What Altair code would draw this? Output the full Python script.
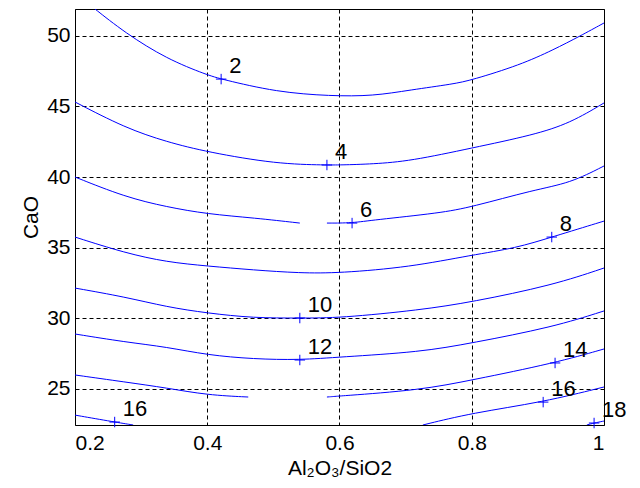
import altair as alt
import pandas as pd

# ---- contour lines (level, segment) : x values, y values ----
c2_x = [0.226, 0.276, 0.339, 0.400, 0.421, 0.505, 0.586, 0.651, 0.707, 0.772, 0.800, 0.873, 0.923, 0.964, 1.000]
c2_y = [52.05, 50.19, 48.35, 47.22, 46.93, 46.01, 45.73, 45.73, 46.16, 46.58, 46.86, 47.93, 48.99, 49.98, 50.90]

c4_x = [0.200, 0.276, 0.339, 0.400, 0.505, 0.581, 0.600, 0.651, 0.707, 0.800, 0.893, 0.949, 1.000]
c4_y = [45.31, 43.47, 42.48, 41.77, 40.92, 40.85, 40.85, 40.92, 41.13, 42.05, 42.97, 43.82, 45.24]

c6a_x = [0.200, 0.276, 0.339, 0.400, 0.472, 0.540]
c6a_y = [40.00, 38.58, 37.88, 37.38, 37.10, 36.74]
c6b_x = [0.581, 0.619, 0.651, 0.752, 0.800, 0.893, 0.949, 1.000]
c6b_y = [36.74, 36.74, 36.96, 37.45, 37.88, 39.08, 39.57, 40.78]

c8_x = [0.200, 0.276, 0.339, 0.400, 0.470, 0.540, 0.600, 0.707, 0.800, 0.867, 0.921, 1.000]
c8_y = [35.75, 34.62, 33.98, 33.70, 33.42, 33.20, 33.20, 33.63, 34.48, 34.97, 35.75, 36.88]

c10_x = [0.200, 0.276, 0.339, 0.400, 0.470, 0.540, 0.600, 0.722, 0.800, 0.923, 1.000]
c10_y = [32.14, 31.51, 30.80, 30.37, 30.02, 30.02, 30.02, 30.59, 31.15, 32.35, 33.56]

c12_x = [0.200, 0.276, 0.339, 0.400, 0.470, 0.540, 0.600, 0.722, 0.800, 0.923, 1.000]
c12_y = [28.89, 28.32, 27.97, 27.40, 27.12, 27.05, 27.26, 27.61, 28.25, 29.38, 30.52]

c14a_x = [0.200, 0.276, 0.339, 0.400, 0.462]
c14a_y = [25.99, 25.49, 25.07, 24.57, 24.43]
c14b_x = [0.581, 0.600, 0.722, 0.800, 0.926, 1.000]
c14b_y = [24.43, 24.50, 24.92, 25.63, 26.84, 27.83]

c16a_x = [0.200, 0.260, 0.288]
c16a_y = [23.15, 22.66, 22.45]
c16b_x = [0.726, 0.800, 0.908, 1.000]
c16b_y = [22.45, 23.30, 24.07, 25.14]

c18_x = [0.974, 0.985, 1.000]
c18_y = [22.45, 22.59, 22.73]

segments = [
    ("2", c2_x, c2_y), ("4", c4_x, c4_y),
    ("6a", c6a_x, c6a_y), ("6b", c6b_x, c6b_y),
    ("8", c8_x, c8_y), ("10", c10_x, c10_y), ("12", c12_x, c12_y),
    ("14a", c14a_x, c14a_y), ("14b", c14b_x, c14b_y),
    ("16a", c16a_x, c16a_y), ("16b", c16b_x, c16b_y),
    ("18", c18_x, c18_y),
]

# ---- contour labels ----
lab_text = ["2", "4", "6", "8", "10", "12", "14", "16", "16", "18"]
lab_x = [0.421, 0.581, 0.619, 0.921, 0.540, 0.540, 0.926, 0.908, 0.260, 0.985]
lab_y = [46.93, 40.85, 36.74, 35.75, 30.02, 27.05, 26.84, 24.07, 22.66, 22.59]

x_ticks = [0.2, 0.4, 0.6, 0.8, 1.0]
y_ticks = [25, 30, 35, 40, 45, 50]

rows = []
for seg, xs, ys in segments:
    for i, (xv, yv) in enumerate(zip(xs, ys)):
        rows.append({"seg": seg, "i": i, "x": xv, "y": yv})
lines_df = pd.DataFrame(rows)
labels_df = pd.DataFrame({"x": lab_x, "y": lab_y, "t": lab_text})

FONT = "Liberation Sans"
xscale = alt.Scale(domain=[0.2, 1.0], nice=False, zero=False)
yscale = alt.Scale(domain=[22.45, 51.89], nice=False, zero=False)

xaxis = alt.Axis(values=x_ticks, format=".1~f", title="Al₂O₃/SiO2",
                 grid=True, gridDash=[4, 3], gridColor="black", gridOpacity=1,
                 domain=False, ticks=False, labelPadding=7, titlePadding=4,
                 labelFontSize=21, titleFontSize=21, labelFont=FONT, titleFont=FONT,
                 labelColor="black", titleColor="black", titleFontWeight="normal")
yaxis = alt.Axis(values=y_ticks, title="CaO",
                 grid=True, gridDash=[4, 3], gridColor="black", gridOpacity=1,
                 domain=False, ticks=False, labelPadding=5, titlePadding=5,
                 labelFontSize=21, titleFontSize=21, labelFont=FONT, titleFont=FONT,
                 labelColor="black", titleColor="black", titleFontWeight="normal")

lines = alt.Chart(lines_df).mark_line(
    color="#0000ff", strokeWidth=1, clip=True, interpolate="basis"
).encode(
    x=alt.X("x:Q", scale=xscale, axis=xaxis),
    y=alt.Y("y:Q", scale=yscale, axis=yaxis),
    detail="seg:N",
    order="i:Q",
)

marks = alt.Chart(labels_df).mark_point(
    shape="M-1,0L1,0M0,-1L0,1", size=110, filled=False, color="#0000ff", strokeWidth=1, opacity=1
).encode(x=alt.X("x:Q", scale=xscale), y=alt.Y("y:Q", scale=yscale))

texts = alt.Chart(labels_df).mark_text(
    align="left", baseline="alphabetic", dx=8, dy=-6, fontSize=22, font=FONT, color="black"
).encode(x=alt.X("x:Q", scale=xscale), y=alt.Y("y:Q", scale=yscale), text="t:N")

chart = alt.layer(lines, marks, texts).properties(
    width=529, height=416,
    autosize=alt.AutoSizeParams(type="none"),
    padding={"left": 67, "top": 1, "right": 27, "bottom": 62},
    background="white",
).configure_view(stroke="black", strokeWidth=1)

chart.save("out.html", embed_options={"renderer": "svg", "actions": False})
